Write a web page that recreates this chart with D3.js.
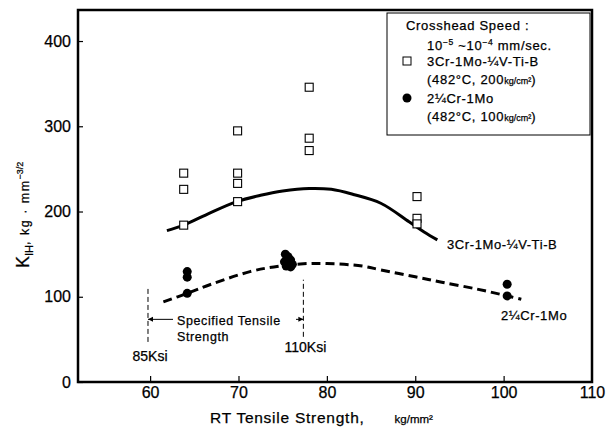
<!DOCTYPE html>
<html>
<head>
<meta charset="utf-8">
<script src="https://cdn.jsdelivr.net/npm/d3@7"></script>
<style>
  body { margin: 0; background: #fff; }
  svg { display: block; font-family: "Liberation Sans", Arial, sans-serif; }
  svg text { stroke: #000; stroke-width: 0.25px; }
</style>
</head>
<body>
<div class="svg-container"></div>
<script>
// 3Cr-1Mo-1/4V-Ti-B (open squares)
const squareX = [63.8, 63.8, 63.8, 69.9, 69.9, 69.9, 69.9, 78.0, 78.0, 78.0, 90.2, 90.2, 90.2];
const squareY = [245, 226, 184, 294.6, 245, 233, 211.6, 345.8, 286, 271.5, 217.5, 192, 185.5];
// 2-1/4Cr-1Mo (filled circles)
const circleX = [64.2, 64.2, 64.2, 75.3, 75.6, 75.9, 75.2, 75.7, 75.4, 75.9, 76.1, 100.4, 100.4];
const circleY = [129.5, 123, 104, 150, 147, 143, 141, 139, 136, 135, 138, 114.7, 101];
// trend curves
const solidFitX = [61.9, 63.8, 66.5, 69.8, 72.5, 75, 78, 80.5, 83, 86.1, 89.3, 91, 92.5];
const solidFitY = [177.6, 184, 197, 211.6, 219, 224, 227, 226, 220, 209.7, 188, 176, 166.7];
const dashFitX = [61.5, 64.2, 67, 71.3, 74, 77, 80, 84, 86.1, 90, 93, 97, 100.4, 102];
const dashFitY = [94, 104, 115, 129.5, 135, 138.5, 139, 136, 131.5, 123.4, 117, 109, 101, 97];
// specified tensile strength limits (85 / 110 ksi in kg/mm2)
const specX = [59.76, 77.34];
const specY0 = [47, 53];
const specY1 = [111.5, 120];
const specArrowY = 73.5;

const xTicks = [60, 70, 80, 90, 100, 110];
const yTicks = [0, 100, 200, 300, 400];

const svgWidth = 615;
const svgHeight = 427;
const svg = d3.select('.svg-container').append('svg')
  .attr('width', svgWidth).attr('height', svgHeight);

const x = d3.scaleLinear().domain([51.84, 110]).range([78, 592]);
const y = d3.scaleLinear().domain([0, 436.4]).range([382, 10]);

// axes (ticks pointing inward)
const xAxis = svg.append('g').attr('transform', 'translate(0,382)')
  .call(d3.axisBottom(x).tickValues(xTicks).tickSize(-6).tickPadding(5));
const yAxis = svg.append('g').attr('transform', 'translate(78,0)')
  .call(d3.axisLeft(y).tickValues(yTicks).tickSize(-5).tickPadding(7));
[xAxis, yAxis].forEach(g => {
  g.select('.domain').remove();
  g.selectAll('line').attr('stroke', '#000').attr('stroke-width', 1.2);
  g.selectAll('text').attr('fill', '#000').style('font-size', '16px')
    .style('font-family', '"Liberation Sans", Arial, sans-serif');
});
xAxis.selectAll('.tick').filter(d => d === 110).select('line').remove();

// frame
svg.append('rect')
  .attr('x', x.range()[0]).attr('y', y.range()[1])
  .attr('width', x.range()[1] - x.range()[0]).attr('height', y.range()[0] - y.range()[1])
  .attr('fill', 'none').attr('stroke', '#000').attr('stroke-width', 2.5);

// curves
const line = d3.line().x(d => x(d[0])).y(d => y(d[1])).curve(d3.curveCatmullRom);
svg.append('path')
  .datum(solidFitX.map((v, i) => [v, solidFitY[i]]))
  .attr('fill', 'none').attr('stroke', '#000').attr('stroke-width', 3)
  .attr('d', line);
svg.append('path')
  .datum(dashFitX.map((v, i) => [v, dashFitY[i]]))
  .attr('fill', 'none').attr('stroke', '#000').attr('stroke-width', 3)
  .attr('stroke-dasharray', '9,5')
  .attr('d', line);

// spec lines
specX.forEach((v, i) => {
  svg.append('line')
    .attr('x1', x(v)).attr('x2', x(v))
    .attr('y1', y(specY0[i])).attr('y2', y(specY1[i]))
    .attr('stroke', '#000').attr('stroke-width', 1).attr('stroke-dasharray', '5,3');
});
const ay = y(specArrowY);
svg.append('line').attr('x1', x(specX[0])).attr('x2', 173).attr('y1', ay).attr('y2', ay)
  .attr('stroke', '#000').attr('stroke-width', 1);
svg.append('line').attr('x1', 296).attr('x2', x(specX[1])).attr('y1', ay).attr('y2', ay)
  .attr('stroke', '#000').attr('stroke-width', 1);
svg.append('path')
  .attr('d', `M${x(specX[0])},${ay}l5,-2.5v5z M${x(specX[1])},${ay}l-5,-2.5v5z`)
  .attr('fill', '#000');

const annot = svg.append('g').attr('fill', '#000').style('font-size', '12.5px').style('letter-spacing', '0.6px');
annot.append('text').attr('x', 177).attr('y', 325).text('Specified Tensile');
annot.append('text').attr('x', 177).attr('y', 341).text('Strength');
annot.append('text').attr('x', x(specX[0]) + 2).attr('y', 361).attr('text-anchor', 'middle')
  .style('font-size', '14px').style('letter-spacing', '0px').text('85Ksi');
annot.append('text').attr('x', x(specX[1]) + 2).attr('y', 352).attr('text-anchor', 'middle')
  .style('font-size', '14px').style('letter-spacing', '0px').text('110Ksi');

// markers
svg.append('g').selectAll('rect')
  .data(squareX.map((v, i) => [v, squareY[i]]))
  .join('rect')
  .attr('x', d => x(d[0]) - 4).attr('y', d => y(d[1]) - 4)
  .attr('width', 8).attr('height', 8)
  .attr('fill', '#fff').attr('stroke', '#000').attr('stroke-width', 1.1);
svg.append('g').selectAll('circle')
  .data(circleX.map((v, i) => [v, circleY[i]]))
  .join('circle')
  .attr('cx', d => x(d[0])).attr('cy', d => y(d[1])).attr('r', 4.5)
  .attr('fill', '#000');

// series labels
const lab = svg.append('g').attr('fill', '#000').style('font-size', '13px').style('letter-spacing', '0.6px');
lab.append('text').attr('x', 447).attr('y', 249).text('3Cr-1Mo-¼V-Ti-B');
lab.append('text').attr('x', 501).attr('y', 320).text('2¼Cr-1Mo');

// legend
svg.append('rect').attr('x', 387).attr('y', 13).attr('width', 203).attr('height', 122)
  .attr('fill', '#fff').attr('stroke', '#000').attr('stroke-width', 1);
const leg = svg.append('g').attr('fill', '#000').style('font-size', '13px').style('letter-spacing', '0.7px');
leg.append('text').attr('x', 406).attr('y', 30).text('Crosshead Speed :');
const sp = leg.append('text').attr('x', 427).attr('y', 50);
sp.append('tspan').text('10');
sp.append('tspan').attr('dy', -5).style('font-size', '8.5px').text('−5');
sp.append('tspan').attr('dy', 5).text(' ~10');
sp.append('tspan').attr('dy', -5).style('font-size', '8.5px').text('−4');
sp.append('tspan').attr('dy', 5).text(' mm/sec.');
leg.append('rect').attr('x', 403).attr('y', 57).attr('width', 8).attr('height', 8)
  .attr('fill', '#fff').attr('stroke', '#000').attr('stroke-width', 1);
leg.append('text').attr('x', 427).attr('y', 66).text('3Cr-1Mo-¼V-Ti-B');
const c1 = leg.append('text').attr('x', 427).attr('y', 84);
c1.append('tspan').text('(482°C, 200');
c1.append('tspan').style('font-size', '9px').style('letter-spacing', '0px').text('kg/cm²');
c1.append('tspan').text(')');
leg.append('circle').attr('cx', 407).attr('cy', 98).attr('r', 4.5);
leg.append('text').attr('x', 427).attr('y', 103).text('2¼Cr-1Mo');
const c2 = leg.append('text').attr('x', 427).attr('y', 121);
c2.append('tspan').text('(482°C, 100');
c2.append('tspan').style('font-size', '9px').style('letter-spacing', '0px').text('kg/cm²');
c2.append('tspan').text(')');

// axis titles
const xt = svg.append('text').attr('x', 210).attr('y', 423).attr('fill', '#000')
  .style('font-size', '15.5px').style('letter-spacing', '0.75px');
xt.append('tspan').text('RT Tensile Strength,');
xt.append('tspan').attr('dx', 30).style('font-size', '11.5px').style('letter-spacing', '0px').text('kg/mm²');

const yt = svg.append('text').attr('transform', 'translate(29,268) rotate(-90)').attr('fill', '#000')
  .style('font-size', '18px');
yt.append('tspan').text('K');
yt.append('tspan').attr('dy', 4).style('font-size', '11px').text('IH');
yt.append('tspan').attr('dy', -4).style('font-size', '12.5px').style('letter-spacing', '1.5px').text(',  kg · mm');
yt.append('tspan').attr('dy', -6).style('font-size', '9px').text('−3/2');
</script>
</body>
</html>
